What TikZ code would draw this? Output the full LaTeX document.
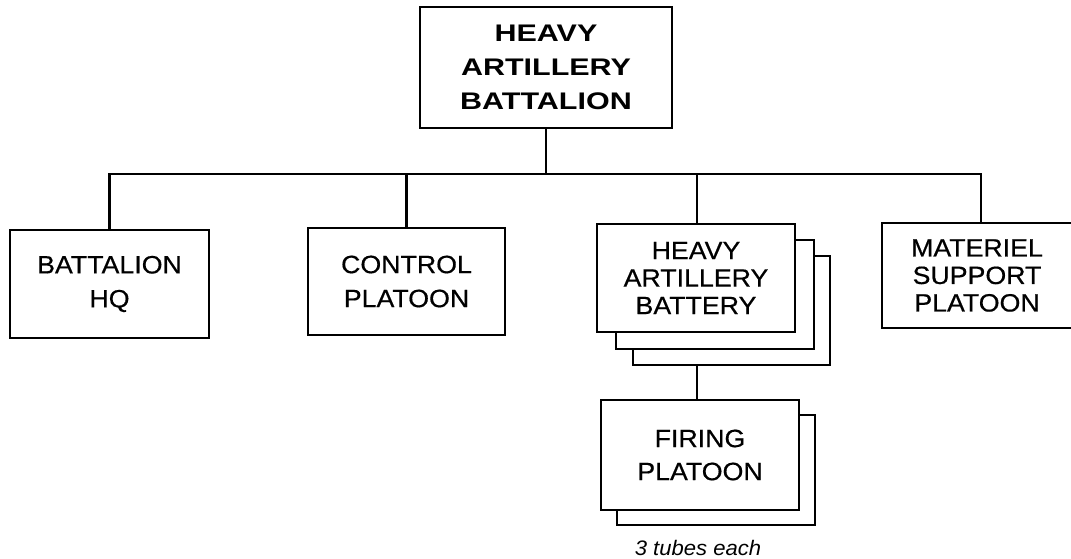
\documentclass[tikz,border=0pt]{standalone}
\usepackage{fontspec}
\setmainfont{Liberation Sans}
\newfontfamily\boxfont[FakeStretch=1.07,FakeBold=0.5]{Liberation Sans}
\newfontfamily\topfont[FakeStretch=1.27]{Liberation Sans}
\newfontfamily\notefont[FakeStretch=1.05]{Liberation Sans}
\begin{document}
\begin{tikzpicture}[x=1pt,y=-1pt,line width=2.2pt,
  unit/.style={draw,fill=white,inner sep=0pt,align=center,
    font=\boxfont\fontsize{25}{27.5}\selectfont},
  twoline/.style={font=\boxfont\fontsize{25}{34}\selectfont},
  topunit/.style={draw,fill=white,inner sep=0pt,align=center,
    font=\topfont\bfseries\fontsize{24}{34}\selectfont},
  conn/.style={line width=2.2pt}]
\useasboundingbox (0,0) rectangle (1071,559);
% top
\node[topunit,minimum width=252pt,minimum height=121pt] (top) at (546,67.5)
  {HEAVY\\ARTILLERY\\BATTALION};
\coordinate (bus) at (546,174);
% level 2
\node[unit,twoline,minimum width=199pt,minimum height=108pt] (hq) at (109.5,284)
  {BATTALION\\HQ};
\node[unit,twoline,minimum width=197pt,minimum height=107pt] (ctl) at (406.5,281.5)
  {CONTROL\\PLATOON};
\node[unit,minimum width=197pt,minimum height=109pt] (bat3) at (731.5,310.5) {};
\node[unit,minimum width=198pt,minimum height=109pt] (bat2) at (715,294.5) {};
\node[unit,minimum width=198pt,minimum height=108pt] (bat1) at (696,278)
  {HEAVY\\ARTILLERY\\BATTERY};
\node[unit,minimum width=190pt,minimum height=105pt] (mat) at (977,275.5)
  {MATERIEL\\SUPPORT\\PLATOON};
% firing platoons
\node[unit,minimum width=198pt,minimum height=110pt] (fp2) at (716,470) {};
\node[unit,font=\boxfont\fontsize{25}{33}\selectfont,minimum width=198pt,minimum height=110pt] (fp1) at (700,455)
  {FIRING\\PLATOON};
\node[font=\notefont\itshape\fontsize{21}{24}\selectfont,inner sep=0pt,anchor=base] (note) at (698,555) {3 tubes each};
% connectors
\draw[conn] (top.south) -- (bus);
\draw[conn] (hq.north) |- (bus);
\draw[conn] (ctl.north) |- (bus);
\draw[conn] ([xshift=1pt]bat1.north) |- (bus);
\draw[conn] ([xshift=4pt]mat.north) |- (bus);
\draw[conn] ([xshift=1pt]bat1.south |- bat3.south) -- ([xshift=1pt]bat1.south |- fp1.north);
\end{tikzpicture}
\end{document}
